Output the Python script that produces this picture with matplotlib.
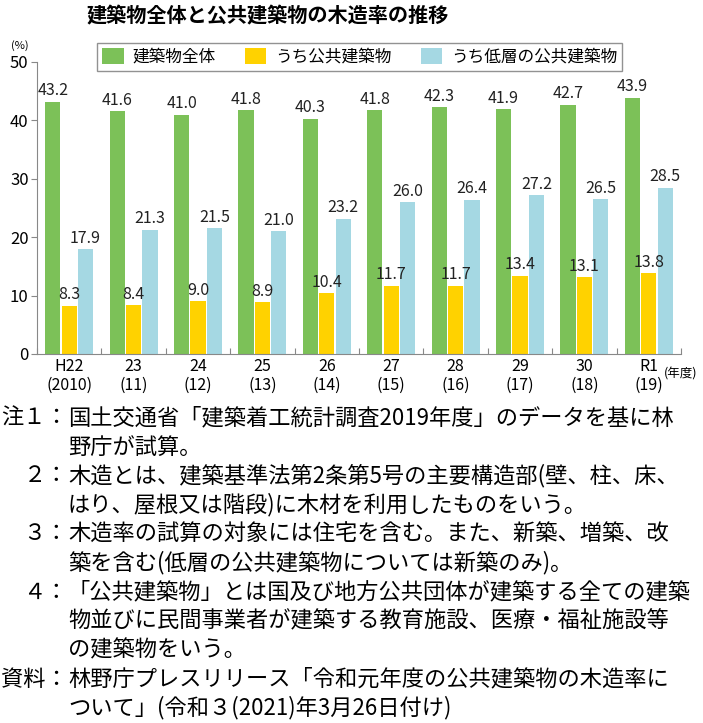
import matplotlib
matplotlib.use("Agg")
import matplotlib.pyplot as plt
import numpy as np

plt.rcParams['font.family'] = ['Noto Sans CJK JP', 'DejaVu Sans']

years = ["H22\n(2010)", "23\n(11)", "24\n(12)", "25\n(13)", "26\n(14)",
         "27\n(15)", "28\n(16)", "29\n(17)", "30\n(18)", "R1\n(19)"]
total = [43.2, 41.6, 41.0, 41.8, 40.3, 41.8, 42.3, 41.9, 42.7, 43.9]
public = [8.3, 8.4, 9.0, 8.9, 10.4, 11.7, 11.7, 13.4, 13.1, 13.8]
lowrise = [17.9, 21.3, 21.5, 21.0, 23.2, 26.0, 26.4, 27.2, 26.5, 28.5]
series_names = ["建築物全体", "うち公共建築物", "うち低層の公共建築物"]
colors = ["#7cc158", "#ffd200", "#a5d8e3"]

notes = [
    ("注１：", "国土交通省「建築着工統計調査2019年度」のデータを基に林"),
    ("", "野庁が試算。"),
    ("２：", "木造とは、建築基準法第2条第5号の主要構造部(壁、柱、床、"),
    ("", "はり、屋根又は階段)に木材を利用したものをいう。"),
    ("３：", "木造率の試算の対象には住宅を含む。また、新築、増築、改"),
    ("", "築を含む(低層の公共建築物については新築のみ)。"),
    ("４：", "「公共建築物」とは国及び地方公共団体が建築する全ての建築"),
    ("", "物並びに民間事業者が建築する教育施設、医療・福祉施設等"),
    ("", "の建築物をいう。"),
    ("資料：", "林野庁プレスリリース「令和元年度の公共建築物の木造率に"),
    ("", "ついて」(令和３(2021)年3月26日付け)"),
]

W, H = 703, 723
fig = plt.figure(figsize=(W / 100, H / 100), dpi=100)
ax = fig.add_axes([37 / W, 1 - 354 / H, (681 - 37) / W, (354 - 62) / H])

x = np.arange(len(years))
bw = 0.235
offsets = [-0.255, 0.0, 0.255]
for vals, off, c, name in zip([total, public, lowrise], offsets, colors, series_names):
    bars = ax.bar(x + off, vals, bw, color=c, label=name, zorder=2)
    for b, v in zip(bars, vals):
        ax.text(b.get_x() + b.get_width() / 2, v + 0.4, f"{v:.1f}",
                ha="center", va="bottom", fontsize=11.5, color="#222222")

ax.set_xlim(-0.5, len(years) - 0.5)
ax.set_ylim(0, 50)
ax.set_yticks(range(0, 51, 10))
ax.tick_params(axis="y", labelsize=12, length=4, color="#888888", pad=2)
ax.set_xticks(np.arange(-0.5, len(years), 1.0))
ax.set_xticklabels([])
ax.tick_params(axis="x", which="major", direction="in", length=4, color="#888888")
ax.set_xticks(x, minor=True)
ax.set_xticklabels(years, minor=True, fontsize=11.5, linespacing=1.1)
ax.tick_params(axis="x", which="minor", length=0, pad=3)
for s in ["top", "right"]:
    ax.spines[s].set_visible(False)
for s in ["left", "bottom"]:
    ax.spines[s].set_color("#888888")

fig.text(20 / W, 1 - 46 / H, "(%)", fontsize=8, ha="center", va="center")
fig.text(664 / W, 1 - 374 / H, "(年度)", fontsize=9, ha="left", va="center")

fig.text(268 / W, 1 - 16 / H, "建築物全体と公共建築物の木造率の推移",
         fontsize=14.5, fontweight="bold", ha="center", va="center")

leg = fig.legend(loc="center", bbox_to_anchor=(97 / W, 1 - 73 / H, (622 - 97) / W, 32 / H),
                 mode="expand", ncol=3, fontsize=12, frameon=True, fancybox=False,
                 handlelength=1.3, handleheight=1.1, handletextpad=0.5,
                 borderpad=0.3, borderaxespad=0)
leg.get_frame().set_edgecolor("#777777")
leg.get_frame().set_linewidth(1.0)

y0 = 418
fs = 16
for i, (lab, txt) in enumerate(notes):
    yy = 1 - (y0 + i * 29) / H
    if lab:
        fig.text(68 / W, yy, lab, fontsize=fs, ha="right", va="center")
    fig.text(68 / W, yy, txt, fontsize=fs, ha="left", va="center")

fig.savefig("out.png", dpi=100)
